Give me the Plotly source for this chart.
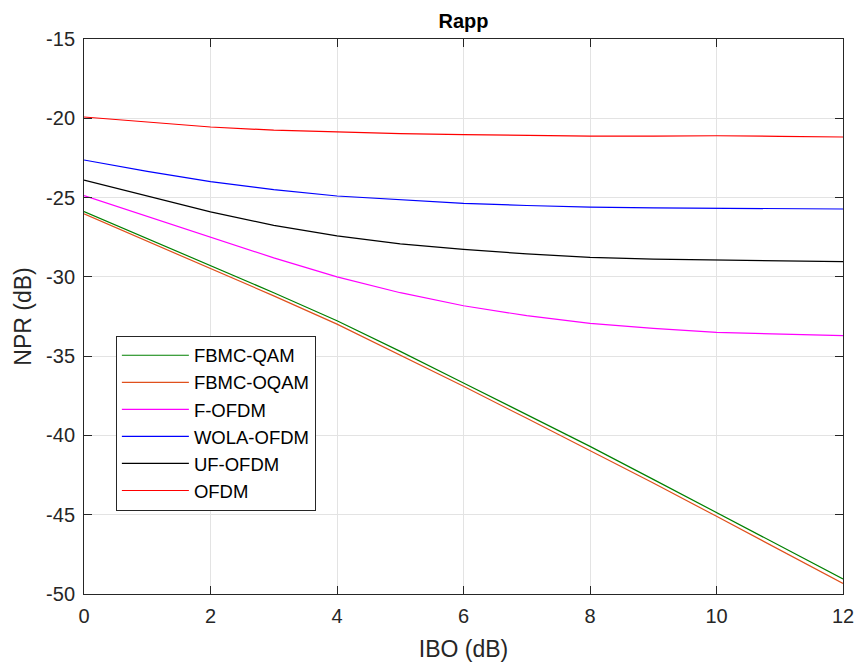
import plotly.graph_objects as go

ibo = [0, 1, 2, 3, 4, 5, 6, 7, 8, 9, 10, 11, 12]

fbmc_qam = [-25.88, -27.58, -29.30, -31.00, -32.77, -34.70, -36.69, -38.68, -40.69, -42.77, -44.85, -46.95, -49.05]
fbmc_oqam = [-26.03, -27.75, -29.47, -31.20, -32.98, -34.92, -36.90, -38.92, -40.94, -43.00, -45.10, -47.20, -49.34]
f_ofdm = [-24.88, -26.20, -27.50, -28.80, -30.00, -31.00, -31.82, -32.45, -32.93, -33.25, -33.50, -33.62, -33.71]
wola_ofdm = [-22.63, -23.35, -24.00, -24.50, -24.90, -25.15, -25.36, -25.50, -25.60, -25.65, -25.68, -25.70, -25.72]
uf_ofdm = [-23.90, -24.90, -25.90, -26.75, -27.42, -27.92, -28.27, -28.55, -28.77, -28.88, -28.94, -28.97, -29.04]
ofdm = [-19.92, -20.25, -20.55, -20.75, -20.87, -20.97, -21.03, -21.08, -21.12, -21.12, -21.10, -21.14, -21.18]

names = ["FBMC-QAM", "FBMC-OQAM", "F-OFDM", "WOLA-OFDM", "UF-OFDM", "OFDM"]
colors = ["#008000", "#e0501c", "#ff00ff", "#0000ff", "#000000", "#ff0000"]
series = [fbmc_qam, fbmc_oqam, f_ofdm, wola_ofdm, uf_ofdm, ofdm]

x_ticks = [0, 2, 4, 6, 8, 10, 12]
y_ticks = [-50, -45, -40, -35, -30, -25, -20, -15]

fig = go.Figure()
for n, c, s in zip(names, colors, series):
    fig.add_trace(go.Scatter(x=ibo, y=s, name=n, mode="lines",
                             line=dict(color=c, width=1.2)))

font = "Liberation Sans, Arial, Helvetica, sans-serif"
axis_common = dict(
    showline=True, linecolor="#262626", linewidth=1, mirror="ticks",
    ticks="inside", ticklen=8, tickcolor="#262626", tickwidth=1,
    showgrid=True, gridcolor="#e3e3e3", gridwidth=1, automargin=False,
    zeroline=False, tickfont=dict(family=font, size=20, color="#262626"),
)

fig.update_layout(
    width=859, height=662,
    margin=dict(l=84, r=16, t=39, b=68),
    paper_bgcolor="white", plot_bgcolor="white",
    title=dict(text="<b>Rapp</b>", x=0.5, xanchor="center", xref="paper",
               y=1 - 21 / 662, yanchor="middle",
               font=dict(family=font, size=20, color="#000000")),
    xaxis=dict(range=[0, 12], tickvals=x_ticks, ticktext=[str(v) for v in x_ticks],
               title=dict(text="IBO (dB)", font=dict(family=font, size=23, color="#262626"), standoff=14),
               ticklabelstandoff=4, **axis_common),
    yaxis=dict(range=[-50, -15], tickvals=y_ticks, ticktext=[str(v) for v in y_ticks],
               title=dict(text="NPR (dB)", font=dict(family=font, size=23, color="#262626"), standoff=8),
               ticklabelstandoff=4, **axis_common),
    legend=dict(x=0.042, y=0.4654, xanchor="left", yanchor="top",
                bgcolor="white", bordercolor="#262626", borderwidth=1,
                font=dict(family=font, size=18.5, color="#000000"),
                itemwidth=67, entrywidth=205, entrywidthmode="pixels", tracegroupgap=0),
    showlegend=True,
)

fig.write_html("out.html", config={"displayModeBar": False},
               post_script="document.body.style.margin='0';document.body.style.overflow='hidden';")
